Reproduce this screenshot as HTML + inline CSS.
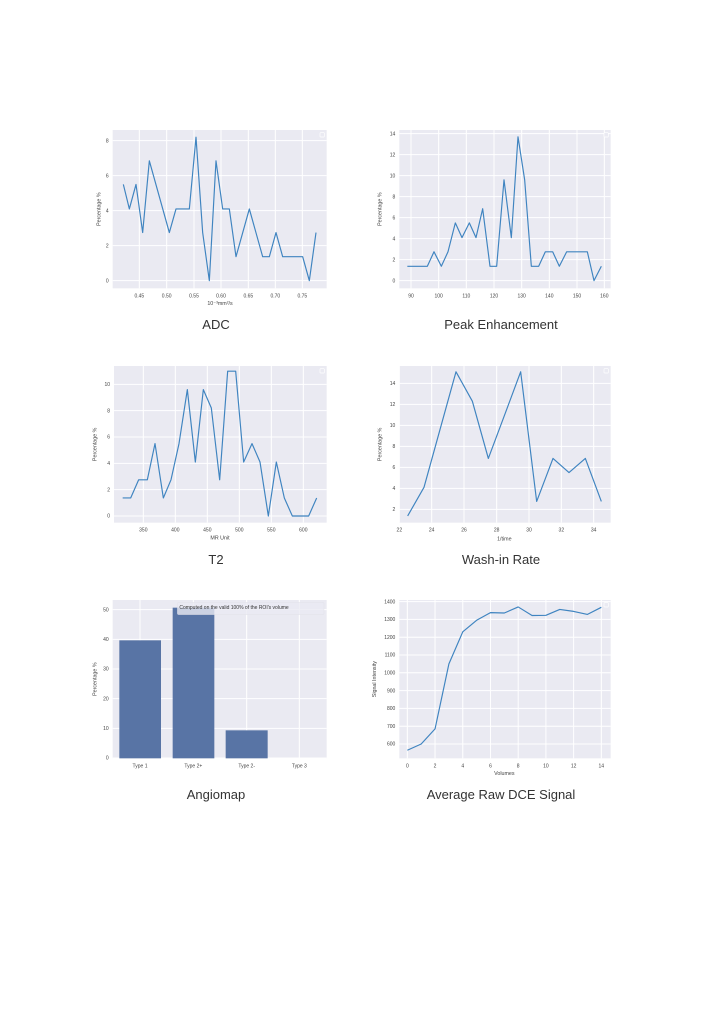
<!DOCTYPE html>
<html><head><meta charset="utf-8"><style>
body{margin:0;width:724px;height:1024px;background:#fff;position:relative;overflow:hidden;font-family:"Liberation Sans","DejaVu Sans",sans-serif}
svg.p{position:absolute;width:250px;height:185px}
.t{position:absolute;font-size:13px;color:#333;transform:translateX(-50%);white-space:nowrap}
</style></head><body>
<div id="root"></div>
<div class="t" style="left:216px;top:317px">ADC</div>
<div class="t" style="left:501px;top:317px">Peak Enhancement</div>
<div class="t" style="left:216px;top:552px">T2</div>
<div class="t" style="left:501px;top:552px">Wash-in Rate</div>
<div class="t" style="left:216px;top:787px">Angiomap</div>
<div class="t" style="left:501px;top:787px">Average Raw DCE Signal</div>
<script>
function panel(o){
 let s=`<svg class="p" style="left:${o.ox}px;top:${o.oy}px" viewBox="0 0 750 555" xmlns="http://www.w3.org/2000/svg" font-family="Liberation Sans, DejaVu Sans, sans-serif">`;
 const [x0,x1,y0,y1]=o.rect;
 s+=`<rect x="${x0}" y="${y0}" width="${x1-x0}" height="${y1-y0}" fill="#eaeaf2"/>`;
 (o.xt||[]).forEach(t=>{s+=`<line x1="${t[0]}" x2="${t[0]}" y1="${y0}" y2="${y1}" stroke="#fff" stroke-width="3"/><text x="${t[0]}" y="${y1+27}" font-size="15" fill="#444" text-anchor="middle">${t[1]}</text>`});
 (o.yt||[]).forEach(t=>{s+=`<line x1="${x0}" x2="${x1}" y1="${t[0]}" y2="${t[0]}" stroke="#fff" stroke-width="3"/><text x="${x0-12}" y="${t[0]+5}" font-size="15" fill="#444" text-anchor="end">${t[1]}</text>`});
 if(o.bars)o.bars.forEach(b=>{s+=`<rect x="${b[0]}" y="${b[2]}" width="${b[1]-b[0]}" height="${y1-b[2]}" fill="#5874a5"/>`});
 if(o.pts){s+=`<polyline fill="none" stroke="#3f84c0" stroke-width="3.5" stroke-linejoin="round" points="${o.pts.map(p=>p[0]+','+o.f(p[1])).join(' ')}"/>`;
  s+=`<rect x="${x1-20}" y="${y0+8}" width="13" height="13" fill="#eaeaf2" stroke="#fff" stroke-width="2" rx="2"/>`;}
 if(o.xl)s+=`<text x="${o.xl[1]}" y="${o.xl[2]}" font-size="16" fill="#444" text-anchor="middle">${o.xl[0]}</text>`;
 if(o.yl)s+=`<text transform="translate(${o.yl[1]},${(y0+y1)/2}) rotate(-90)" font-size="16" fill="#444" text-anchor="middle">${o.yl[0]}</text>`;
 if(o.extra)s+=o.extra;
 s+='</svg>';document.getElementById('root').insertAdjacentHTML('beforeend',s);
}
const pct="Percentage %";
panel({ox:90,oy:125,rect:[68,710,15,490],
 xt:[[148,'0.45'],[230,'0.50'],[312,'0.55'],[393,'0.60'],[475,'0.65'],[556,'0.70'],[637,'0.75']],
 yt:[[467,0],[362,2],[257,4],[152,6],[47,8]],
 f:v=>467-52.5*v,
 pts:[[100,5.5],[118,4.1],[138,5.5],[158,2.75],[178,6.85],[238,2.75],[258,4.1],[298,4.1],[318,8.2],[338,2.75],[358,0],[378,6.85],[398,4.1],[418,4.1],[438,1.37],[478,4.1],[518,1.37],[538,1.37],[558,2.75],[578,1.37],[638,1.37],[658,0],[678,2.75]],
 xl:['10⁻³mm²/s',390,540],yl:[pct,32]});
panel({ox:370,oy:125,rect:[88,722,15,490],
 xt:[[123,90],[206,100],[289,110],[372,120],[455,130],[538,140],[621,150],[703,160]],
 yt:[[467,0],[404,2],[341,4],[278,6],[215,8],[152,10],[89,12],[26,14]],
 f:v=>467-31.5*v,
 pts:[[112,1.37],[132,1.37],[152,1.37],[172,1.37],[192,2.75],[214,1.37],[234,2.75],[256,5.5],[276,4.1],[298,5.5],[318,4.1],[338,6.85],[360,1.37],[380,1.37],[402,9.6],[424,4.1],[444,13.7],[464,9.6],[484,1.37],[506,1.37],[526,2.75],[548,2.75],[568,1.37],[590,2.75],[652,2.75],[672,0],[694,1.37]],
 yl:[pct,34]});
panel({ox:90,oy:362,rect:[72,710,12,482],
 xt:[[160,350],[256,400],[352,450],[448,500],[544,550],[640,600]],
 yt:[[462,0],[383,2],[304,4],[225,6],[146,8],[67,10]],
 f:v=>462-39.5*v,
 pts:[[98,1.37],[122,1.37],[146,2.75],[172,2.75],[195,5.5],[220,1.37],[243,2.75],[267,5.5],[292,9.6],[316,4.1],[340,9.6],[364,8.2],[389,2.75],[413,11],[437,11],[461,4.1],[486,5.5],[510,4.1],[535,0],[559,4.1],[583,1.37],[607,0],[631,0],[656,0],[680,1.37]],
 xl:['MR Unit',390,533],yl:[pct,20]});
panel({ox:370,oy:362,rect:[88,722,12,482],
 xt:[[88,22],[185,24],[282,26],[380,28],[477,30],[574,32],[671,34]],
 yt:[[442,2],[379,4],[316,6],[253,8],[190,10],[127,12],[64,14]],
 f:v=>442-31.5*(v-2),
 pts:[[113,1.37],[162,4.1],[210,9.6],[258,15.1],[307,12.3],[355,6.85],[404,11],[452,15.1],[500,2.75],[549,6.85],[597,5.5],[646,6.85],[694,2.75]],
 xl:['1/time',403,535],yl:[pct,34]});
panel({ox:90,oy:595,rect:[68,710,15,490],
 xt:[[150,'Type 1'],[310,'Type 2+'],[470,'Type 2-'],[628,'Type 3']],
 yt:[[489,0],[400,10],[311,20],[222,30],[133,40],[44,50]],
 bars:[[88,213,136],[248,373,38],[407,533,406]],
 yl:[pct,20],
 extra:`<rect x="262" y="22" width="440" height="37" rx="4" fill="#eaeaf2" fill-opacity="0.8" stroke="#dcdce4"/><text x="268" y="42" font-size="15" fill="#333">Computed on the valid 100% of the ROI's volume</text>`});
panel({ox:370,oy:595,rect:[88,722,15,490],
 xt:[0,2,4,6,8,10,12,14].map(v=>[112+41.57*v,v]),
 yt:[600,700,800,900,1000,1100,1200,1300,1400].map(v=>[447-(v-600)*0.534,v]),
 f:v=>447-(v-600)*0.534,
 pts:[565,600,685,1050,1230,1295,1338,1336,1370,1322,1323,1356,1345,1328,1368].map((v,i)=>[112+41.57*i,v]),
 xl:['Volumes',403,540],yl:['Signal Intensity',18]});
</script>
</body></html>
